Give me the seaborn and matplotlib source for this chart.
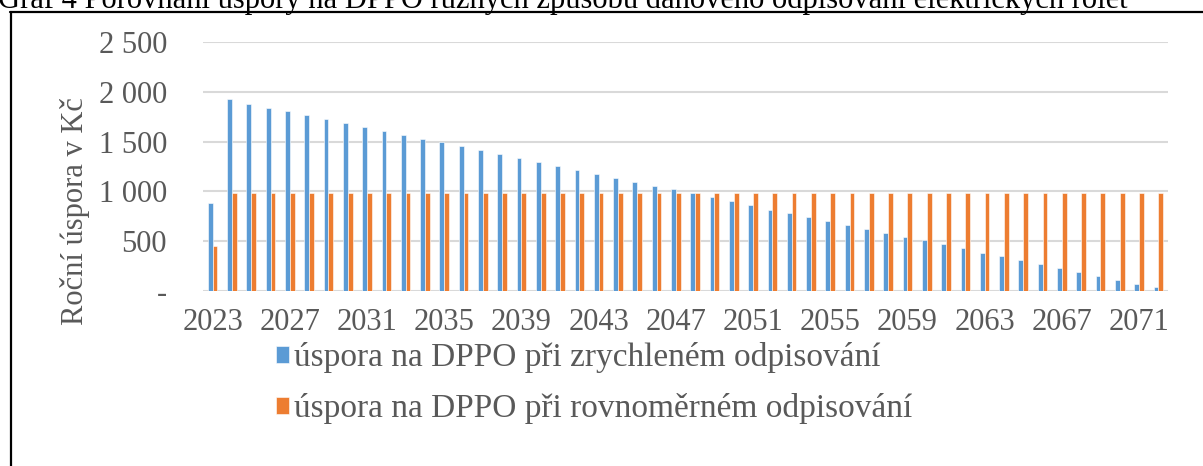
import matplotlib
matplotlib.use("Agg")
import matplotlib.pyplot as plt
import pandas as pd
import seaborn as sns
from matplotlib.lines import Line2D

years = list(range(2023, 2073))
zrychlene = [
    886, 1929, 1879, 1838, 1805, 1768, 1727, 1687, 1646, 1606,
    1566, 1525, 1492, 1455, 1414, 1374, 1333, 1293, 1253, 1212,
    1172, 1134, 1094, 1058, 1020, 980, 942, 902, 865, 818,
    781, 741, 704, 663, 626, 586, 545, 508, 468, 431,
    384, 347, 310, 270, 232, 192, 155, 114, 74, 37,
]
rovnomerne = [450] + [987] * 49
series_names = [
    "úspora na DPPO při zrychleném odpisování",
    "úspora na DPPO při rovnoměrném odpisování",
]
colors = ["#5B9BD5", "#ED7D31"]
title = "Graf 4 Porovnání úspory na DPPO různých způsobů daňového odpisování elektrických rolet"
y_ticks = [0, 500, 1000, 1500, 2000, 2500]
y_tick_labels = ["-", "500", "1 000", "1 500", "2 000", "2 500"]

df = pd.DataFrame({
    "rok": [str(y) for y in years] * 2,
    "uspora": zrychlene + rovnomerne,
    "serie": [series_names[0]] * len(years) + [series_names[1]] * len(years),
})

sns.set_theme(style="white")
plt.rcParams["font.family"] = ["Liberation Serif", "DejaVu Serif"]
text_gray = "#595959"

fig = plt.figure(figsize=(12.03, 4.66), dpi=100)
ax = fig.add_axes([203 / 1203, 1 - 291 / 466, (1168 - 203) / 1203, (291 - 42) / 466])

sns.barplot(
    data=df, x="rok", y="uspora", hue="serie", hue_order=series_names,
    order=[str(y) for y in years], palette=colors, width=0.5, saturation=1,
    edgecolor="white", linewidth=0.4, ax=ax,
)

ax.set_ylim(0, 2500)
ax.set_xlim(-0.5, len(years) - 0.5)
ax.set_yticks(y_ticks)
ax.set_yticklabels(y_tick_labels)
tick_idx = list(range(0, len(years), 4))
ax.set_xticks(tick_idx)
ax.set_xticklabels([str(years[i]) for i in tick_idx])
ax.tick_params(axis="y", length=0, pad=26, labelsize=22, labelcolor=text_gray)
ax.tick_params(axis="x", length=0, pad=12, labelsize=22, labelcolor=text_gray)
ax.set_xlabel("")
ax.set_ylabel("Roční úspora v Kč", fontsize=22, color=text_gray)
ax.yaxis.set_label_coords(-0.117, 0.32)
ax.yaxis.grid(True, color="#D9D9D9", linewidth=1.5)
ax.set_axisbelow(True)
for s in ax.spines.values():
    s.set_visible(False)

handles, labels = ax.get_legend_handles_labels()
ax.legend(
    handles, labels, loc="center left", bbox_to_anchor=(276 / 1203, 1 - 383 / 466),
    bbox_transform=fig.transFigure, frameon=False, fontsize=24,
    labelcolor=text_gray, handlelength=0.4, handleheight=0.4,
    handletextpad=0.15, labelspacing=0.6, borderaxespad=0, borderpad=0,
)

# frame of the document figure box and the cut-off caption
fig.add_artist(Line2D([10 / 1203, 1.0], [1 - 12 / 466, 1 - 12 / 466],
                      transform=fig.transFigure, color="black", linewidth=1.6))
fig.add_artist(Line2D([11 / 1203, 11 / 1203], [1 - 12 / 466, 0.0],
                      transform=fig.transFigure, color="black", linewidth=1.6))
fig.text(-2 / 1203, 1 - 8 / 466, title, fontsize=22, color="black", va="baseline", ha="left")

fig.savefig("out.png", dpi=100)
